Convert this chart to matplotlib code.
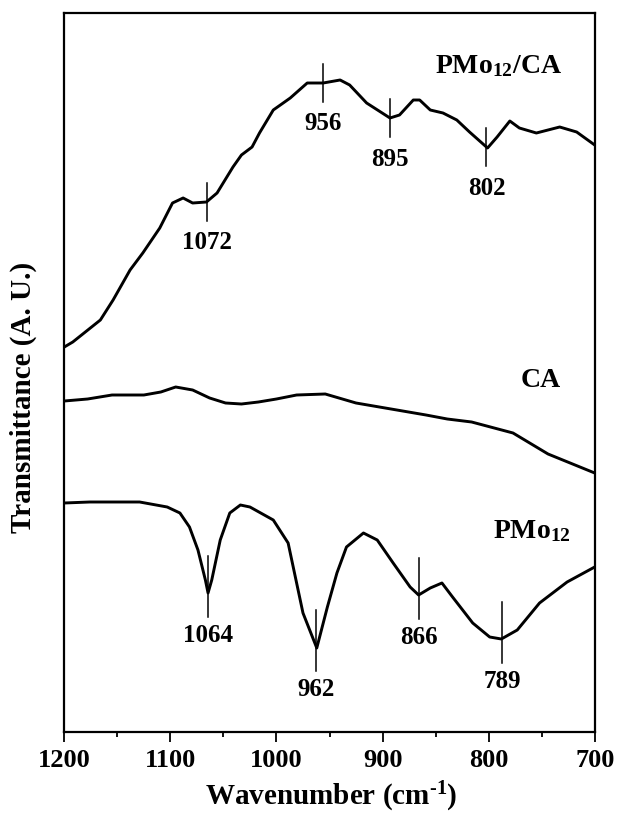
import numpy as np
import matplotlib
matplotlib.use("Agg")
import matplotlib.pyplot as plt
from matplotlib.ticker import MultipleLocator

# ---------------- data ----------------
# PMo12/CA spectrum (top)
wn_pmoca = [1200, 1192, 1166, 1154, 1138, 1126, 1110, 1098, 1088, 1079, 1066, 1056,
            1041, 1033, 1023, 1016, 1003, 987, 971, 962, 956, 940, 931, 915, 893,
            884, 871, 865, 855, 843, 830, 818, 801, 792, 780, 771, 755, 733, 717, 700]
t_pmoca = [38.5, 39.0, 41.2, 43.2, 46.2, 47.9, 50.4, 52.9, 53.4, 52.9, 53.0, 53.9,
           56.5, 57.7, 58.5, 59.9, 62.2, 63.4, 64.9, 64.9, 64.9, 65.2, 64.7, 62.9, 61.4,
           61.7, 63.2, 63.2, 62.2, 61.9, 61.2, 60.0, 58.4, 59.5, 61.1, 60.4, 59.9, 60.5, 60.0, 58.7]

# CA spectrum (middle)
wn_ca = [1200, 1178, 1155, 1125, 1109, 1095, 1079, 1063, 1048, 1033, 1017, 1000,
         981, 954, 925, 892, 859, 839, 816, 777, 744, 700]
t_ca = [33.1, 33.3, 33.7, 33.7, 34.0, 34.5, 34.2, 33.4, 32.9, 32.8, 33.0, 33.3,
        33.7, 33.8, 32.9, 32.3, 31.7, 31.3, 31.0, 29.9, 27.8, 25.9]

# PMo12 spectrum (bottom)
wn_pmo = [1200, 1176, 1129, 1103, 1091, 1082, 1074, 1067, 1064.5, 1061, 1053, 1044,
          1034, 1025, 1003, 989, 981, 975, 962, 952, 943, 934, 918, 905, 890, 874,
          866, 855, 844, 834, 815, 799, 788, 773, 752, 726, 700]
t_pmo = [22.9, 23.0, 23.0, 22.5, 21.9, 20.5, 18.2, 15.2, 13.9, 15.2, 19.2, 21.9,
         22.7, 22.5, 21.2, 18.9, 14.9, 11.9, 8.4, 12.5, 15.9, 18.5, 19.9, 19.2, 16.9, 14.5,
         13.7, 14.4, 14.9, 13.5, 10.9, 9.5, 9.3, 10.2, 12.9, 15.0, 16.5]

# peak markers: drawn position and printed label
peak_pos_pmoca = [1065.5, 956, 893, 802]
peak_lab_pmoca = ["1072", "956", "895", "802"]
peak_pos_pmo = [1064.5, 962.5, 866, 787.5]
peak_lab_pmo = ["1064", "962", "866", "789"]

series_names = [r"PMo$_{12}$/CA", "CA", r"PMo$_{12}$"]
x_ticks = [1200, 1100, 1000, 900, 800, 700]

# ---------------- style ----------------
plt.rcParams["font.family"] = ["Liberation Serif", "DejaVu Serif"]
plt.rcParams["font.weight"] = "bold"
plt.rcParams["mathtext.fontset"] = "custom"
plt.rcParams["mathtext.rm"] = "Liberation Serif:bold"
plt.rcParams["mathtext.it"] = "Liberation Serif:bold"
plt.rcParams["mathtext.bf"] = "Liberation Serif:bold"
plt.rcParams["mathtext.default"] = "rm"

fig = plt.figure(figsize=(6.17, 8.18), dpi=100)
ax = fig.add_axes([64.3 / 617, 1 - 732 / 818, (594.7 - 64.3) / 617, (732 - 13) / 818])

lw = 2.1
ax.plot(wn_pmoca, t_pmoca, color="black", lw=lw, solid_joinstyle="round")
ax.plot(wn_ca, t_ca, color="black", lw=lw, solid_joinstyle="round")
ax.plot(wn_pmo, t_pmo, color="black", lw=lw, solid_joinstyle="round")

ax.set_xlim(1200, 700)
ax.set_ylim(0, 71.9)

fs_peak = 18
# markers on top spectrum
for p, lab in zip(peak_pos_pmoca, peak_lab_pmoca):
    yc = np.interp(p, wn_pmoca[::-1], t_pmoca[::-1])
    ax.plot([p, p], [yc - 1.9, yc + 1.9], color="black", lw=1.1)
    ax.text(p, yc - 1.9 - 2.2, lab, ha="center", va="center", fontsize=fs_peak, fontweight="bold")

# markers on bottom spectrum
for p, lab in zip(peak_pos_pmo, peak_lab_pmo):
    yc = np.interp(p, wn_pmo[::-1], t_pmo[::-1])
    ax.plot([p, p], [yc - 2.4, yc + 3.7], color="black", lw=1.1)
    ax.text(p, yc - 2.4 - 1.9, lab, ha="center", va="center", fontsize=fs_peak, fontweight="bold")

# series labels
fs_name = 20
ax.text(850.5, 65.9, series_names[0], ha="left", va="baseline", fontsize=fs_name, fontweight="bold")
ax.text(770, 34.5, series_names[1], ha="left", va="baseline", fontsize=fs_name, fontweight="bold")
ax.text(796, 19.4, series_names[2], ha="left", va="baseline", fontsize=fs_name, fontweight="bold")

# axes styling
for s in ax.spines.values():
    s.set_linewidth(1.6)
ax.set_xticks(x_ticks)
ax.set_xticklabels([str(v) for v in x_ticks])
ax.xaxis.set_minor_locator(MultipleLocator(50))
ax.tick_params(axis="x", which="major", direction="out", length=7.5, width=1.3,
               labelsize=19, pad=5, top=False)
ax.tick_params(axis="x", which="minor", direction="out", length=3.8, width=1.3, top=False)
ax.tick_params(axis="y", which="both", left=False, right=False, labelleft=False)
for lbl in ax.get_xticklabels():
    lbl.set_fontweight("bold")

fig.text(331 / 617, 1 - 797 / 818, r"Wavenumber (cm$^{\text{-}1}$)", ha="center", va="center",
         fontsize=21, fontweight="bold")
fig.text(23 / 617, 1 - 397 / 818, "Transmittance (A. U.)", ha="center", va="center",
         rotation=90, fontsize=21, fontweight="bold")

fig.savefig("out.png", dpi=100, facecolor="white")
